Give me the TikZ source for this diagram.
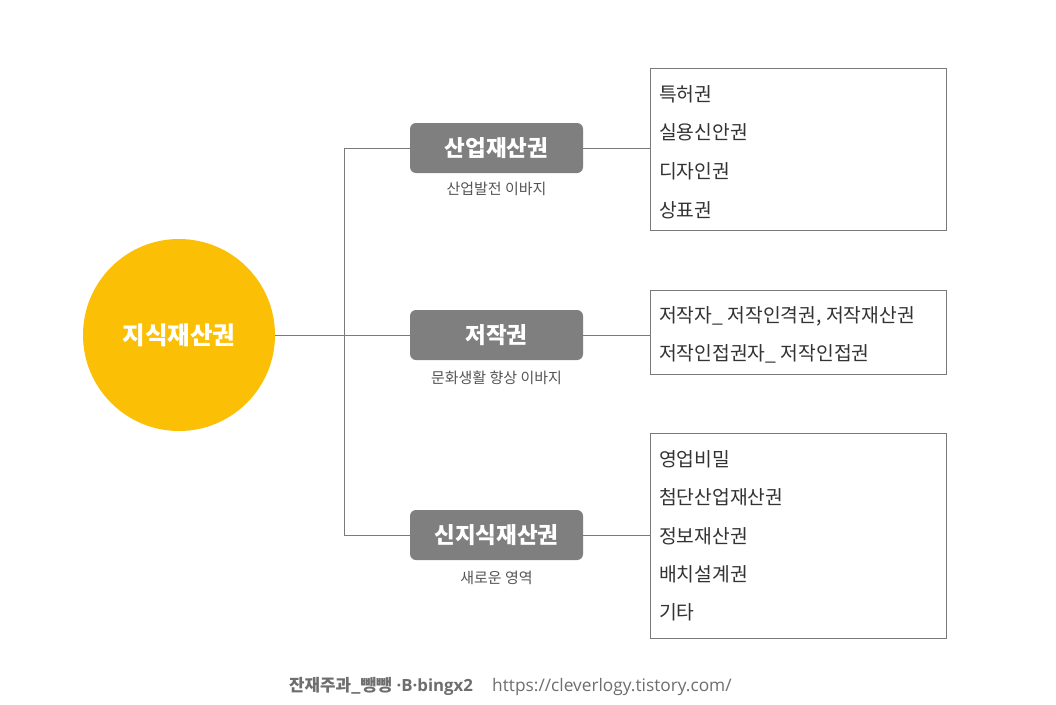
\documentclass[tikz,border=0pt]{standalone}
\usepackage{fontspec}
\setmainfont{Noto Sans CJK KR}
\newfontfamily\latinf{Open Sans}
\definecolor{sun}{HTML}{FBC005}
\definecolor{boxgray}{HTML}{7F7F7F}
\definecolor{linegray}{HTML}{7A7A7A}
\definecolor{subgray}{HTML}{555555}
\definecolor{itemtext}{HTML}{333333}
\definecolor{footgray}{HTML}{6E6E6E}
\tikzset{
  rootnode/.style={circle, fill=sun, minimum size=192pt, inner sep=0pt, text=white, font=\fontsize{24.5}{28}\selectfont\bfseries},
  catbox/.style={rounded corners=6pt, fill=boxgray, minimum width=173pt, minimum height=50pt, inner sep=0pt, text=white, font=\fontsize{22.5}{26}\selectfont\bfseries},
  subnote/.style={text=subgray, font=\fontsize{15}{18}\selectfont, inner sep=0pt},
  listbox/.style={draw=linegray, line width=0.8pt, minimum width=296pt, inner sep=0pt},
  item/.style={anchor=west, text=itemtext, font=\fontsize{19.3}{22}\selectfont, inner sep=0pt},
  conn/.style={draw=linegray, line width=0.8pt},
  foot/.style={text=footgray, font=\fontsize{16}{19}\selectfont, inner sep=0pt, anchor=base west}
}
\begin{document}
\begin{tikzpicture}[x=1pt,y=-1pt]
\useasboundingbox (0,0) rectangle (1056,704);
\fill[white] (0,0) rectangle (1056,704);

% root
\node[rootnode] (root) at (179,335) {지식재산권};

% category boxes
\node[catbox] (b1) at (496.5,148) {산업재산권};
\node[catbox] (b2) at (496.5,335) {저작권};
\node[catbox] (b3) at (496.5,535) {신지식재산권};

\node[subnote] (s1) at (496.5,189) {산업발전 이바지};
\node[subnote] (s2) at (496.5,378) {문화생활 향상 이바지};
\node[subnote] (s3) at (496.5,578) {새로운 영역};

% list boxes
\node[listbox, minimum height=162pt] (r1) at (798,149) {};
\node[listbox, minimum height=84pt] (r2) at (798,332) {};
\node[listbox, minimum height=205pt] (r3) at (798,535.5) {};

% items
\node[item] (i11) at (659,94) {특허권};
\node[item] (i12) at (659,132) {실용신안권};
\node[item] (i13) at (659,171) {디자인권};
\node[item] (i14) at (659,210) {상표권};

\node[item] (i21) at (659,316) {저작자\_ 저작인격권, 저작재산권};
\node[item] (i22) at (659,354) {저작인접권자\_ 저작인접권};

\node[item] (i31) at (659,459) {영업비밀};
\node[item] (i32) at (659,497) {첨단산업재산권};
\node[item] (i33) at (659,536) {정보재산권};
\node[item] (i34) at (659,574) {배치설계권};
\node[item] (i35) at (659,612) {기타};

% connectors
\coordinate (j1) at (344,148);
\coordinate (j3) at (344,535);
\draw[conn] (root.east) -- (b2.west);
\draw[conn] (b1.west) -- (j1) -- (j3) -- (b3.west);
\draw[conn] (b1.east) -- (b1.east -| r1.west);
\draw[conn] (b2.east) -- (b2.east -| r2.west);
\draw[conn] (b3.east) -- (b3.east -| r3.west);

% footer
\node[foot, font=\fontsize{16.8}{20}\selectfont\bfseries] (f1) at (289,691) {잔재주과\_뺑뺑\hspace{5pt}{\latinf\bfseries ·B·bingx2}};
\node[foot] (f2) at (492,691) {\latinf\fontsize{17.3}{20}\selectfont https://cleverlogy.tistory.com/};
\end{tikzpicture}
\end{document}
